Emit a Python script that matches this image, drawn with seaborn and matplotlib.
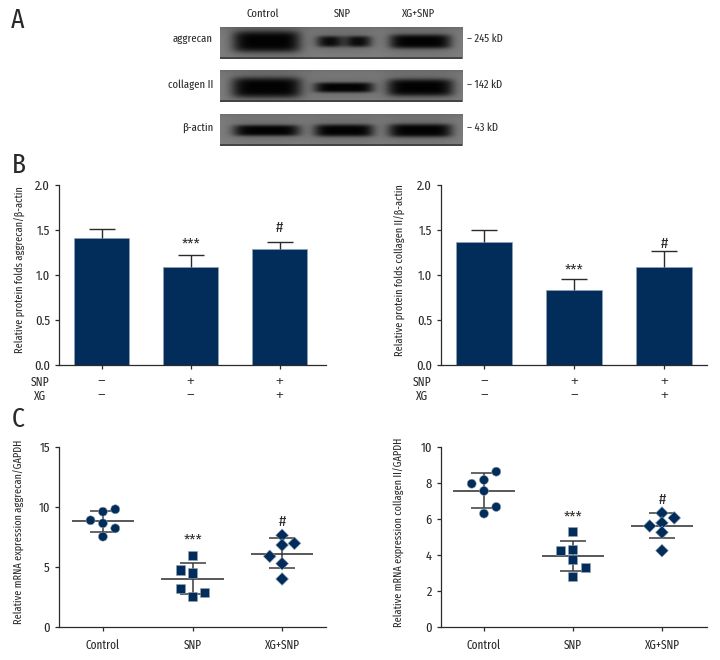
import numpy as np
import pandas as pd
import matplotlib
matplotlib.use("Agg")
import matplotlib.pyplot as plt
import seaborn as sns

sns.set_theme(style="ticks")
plt.rcParams['font.family'] = ['Fira Sans Extra Condensed', 'Fira Sans Condensed', 'Asap Condensed',
                               'Archivo Narrow', 'Liberation Sans', 'DejaVu Sans']
plt.rcParams['axes.linewidth'] = 0.9

NAVY = "#022d5b"
INK = "#2a2a2a"
W, H = 720, 660

# ---- data ----
groups = ["Control", "SNP", "XG+SNP"]
snp_row = ["\u2212", "+", "+"]
xg_row = ["\u2212", "\u2212", "+"]
marks = ["", "***", "#"]

agg_bar = [1.41, 1.09, 1.29]
agg_bar_err = [0.10, 0.13, 0.08]
agg_bar_mark = [None, 1.34, 1.52]
col_bar = [1.37, 0.83, 1.09]
col_bar_err = [0.13, 0.13, 0.18]
col_bar_mark = [None, 1.056, 1.344]

agg_ctrl = [8.89, 9.61, 9.81, 8.64, 8.22, 7.53]
agg_snp = [5.94, 4.75, 4.50, 3.19, 2.86, 2.58]
agg_xg = [7.64, 6.97, 6.83, 5.89, 5.28, 4.00]
agg_lanes = [[-1, 0, 1, 0, 1, 0], [0, -1, 0, -1, 1, 0], [0, 1, 0, -1, 0, 0]]
agg_mean = [8.80, 4.00, 6.08]
agg_low = [7.94, 2.75, 4.92]
agg_up = [9.67, 5.30, 7.39]
agg_mark = [None, 7.25, 8.78]

col_ctrl = [8.63, 8.17, 7.96, 7.56, 6.67, 6.30]
col_snp = [5.33, 4.28, 4.24, 3.74, 3.33, 2.81]
col_xg = [6.33, 6.06, 5.78, 5.61, 5.26, 4.24]
col_lanes = [[1, 0, -1, 0, 1, 0], [0, 0, -1, 0, 1, 0], [0, 1, 0, -1, 0, 0]]
col_mean = [7.55, 3.94, 5.59]
col_low = [6.63, 3.09, 4.94]
col_up = [8.54, 4.80, 6.33]
col_mark = [None, 6.10, 7.06]

blot_names = ["aggrecan", "collagen II", "\u03b2-actin"]
blot_sizes = ["\u2013 245 kD", "\u2013 142 kD", "\u2013 43 kD"]
band_width = [[66, 53, 60], [68, 58, 65], [65, 58, 62]]
band_height = [[21, 11, 14], [20, 10, 17], [11, 12, 13]]
band_dark = [[1.0, 0.95, 1.0], [1.0, 1.0, 1.0], [1.0, 1.0, 1.0]]
band_dip = [[0.0, 0.45, 0.0], [0.0, 0.0, 0.0], [0.0, 0.0, 0.0]]


def axes_px(x0, x1, y_top, y_bot):
    return fig.add_axes([x0 / W, 1 - y_bot / H, (x1 - x0) / W, (y_bot - y_top) / H])


fig = plt.figure(figsize=(W / 100, H / 100), dpi=100)
fig.patch.set_facecolor("white")

# ---- panel A : blots ----
blot_tops = [27, 70, 114]
blot_bots = [59, 102, 146]
blot_mid = [41, 87, 130]
lane_px = [266, 343, 419]
for row, top in enumerate(blot_tops):
    ax = axes_px(220, 462, top, blot_bots[row])
    yy, xx = np.mgrid[top:blot_bots[row], 220:462]
    img = np.full(yy.shape, 0.50) - 0.06 * np.exp(-((yy - top) / 4.0))
    for j, cx in enumerate(lane_px):
        u = (xx - cx) / (band_width[row][j] / 2)
        v = (yy - blot_mid[row]) / (band_height[row][j] / 2)
        core = np.exp(-(u ** 6 + v ** 4)) * (1 - band_dip[row][j] * np.exp(-(u / 0.3) ** 2))
        halo = np.exp(-((u / 1.2) ** 4 + (v / 1.9) ** 2))
        img = img * (1 - 0.98 * band_dark[row][j] * core) * (1 - 0.2 * halo)
    ax.imshow(img, cmap="gray", vmin=0, vmax=1, aspect="auto", interpolation="bilinear")
    ax.set_xticks([]); ax.set_yticks([])
    for s in ax.spines.values():
        s.set_visible(False)
    ax.axhline(blot_bots[row] - top - 1.5, color="#3a3a3a", lw=1.2)
    fig.text(213 / W, 1 - (blot_mid[row] - 2) / H, blot_names[row], ha="right", va="center", fontsize=8.3, color=INK)
    fig.text(467 / W, 1 - (blot_mid[row] - 2) / H, blot_sizes[row], ha="left", va="center", fontsize=8.3, color=INK)
for g, cx in zip(groups, [263, 342, 419]):
    fig.text(cx / W, 1 - 14 / H, g, ha="center", va="center", fontsize=8.3, color=INK)

for letter, px, py in zip("ABC", [18, 19, 18], [20, 165, 419]):
    fig.text(px / W, 1 - py / H, letter, ha="center", va="center", fontsize=20, color=INK)


def style(ax, ylabel, lx, ly):
    sns.despine(ax=ax)
    ax.set_xlabel("")
    ax.set_ylabel(ylabel, fontsize=8, color=INK)
    ax.yaxis.set_label_coords(lx, ly)
    ax.tick_params(axis="both", labelsize=9.8, colors=INK, length=3, width=0.9, pad=3.5)
    for s in ax.spines.values():
        s.set_color(INK)


def put_marks(ax, ys):
    for i, y in enumerate(ys):
        if y is not None:
            ax.text(i, y, marks[i], ha="center", va="center", fontsize=11, color=INK,
                    family=['Fira Sans Condensed', 'Liberation Sans', 'DejaVu Sans'])


# ---- panel B : bars ----
def bars(box, vals, errs, mark_y, xlim, ylabel, lx):
    ax = axes_px(*box)
    df = pd.DataFrame({"g": groups, "v": vals})
    sns.barplot(data=df, x="g", y="v", color=NAVY, saturation=1, width=0.62, ax=ax,
                edgecolor="#8fa3b8", linewidth=0.5)
    tops = np.add(vals, errs)
    ax.vlines(range(3), vals, tops, color=INK, lw=1, zorder=1)
    ax.hlines(tops, [i - 0.147 for i in range(3)], [i + 0.147 for i in range(3)], color=INK, lw=1, zorder=1)
    ax.set_xlim(*xlim)
    ax.set_ylim(0, 2.0)
    ax.set_yticks([0, 0.5, 1, 1.5, 2.0])
    ax.set_yticklabels(["0.0", "0.5", "1.0", "1.5", "2.0"])
    style(ax, ylabel, lx, 0.528)
    ax.set_xticks(range(3))
    ax.set_xticklabels([])
    put_marks(ax, mark_y)
    sign_font = ['Liberation Sans', 'DejaVu Sans']
    for i in range(3):
        ax.annotate(snp_row[i], (i, 0), xytext=(0, -12.2), textcoords="offset points", family=sign_font,
                    ha="center", va="center", fontsize=9.5, color=INK, annotation_clip=False)
        ax.annotate(xg_row[i], (i, 0), xytext=(0, -22.3), textcoords="offset points", family=sign_font,
                    ha="center", va="center", fontsize=9.5, color=INK, annotation_clip=False)
    ax.annotate("SNP", (0, 0), xycoords="axes fraction", xytext=(-7, -12.2), textcoords="offset points",
                ha="right", va="center", fontsize=9, color=INK, annotation_clip=False)
    ax.annotate("XG", (0, 0), xycoords="axes fraction", xytext=(-9, -22.3), textcoords="offset points",
                ha="right", va="center", fontsize=9, color=INK, annotation_clip=False)
    return ax


bars((59, 326, 185, 365), agg_bar, agg_bar_err, agg_bar_mark, (-0.48, 2.52),
     "Relative protein folds aggrecan/\u03b2-actin", -33 / 267)
bars((441, 707, 185, 365), col_bar, col_bar_err, col_bar_mark, (-0.478, 2.478),
     "Relative protein folds collagen II/\u03b2-actin", -35 / 266)


# ---- panel C : scatter ----
def dots(box, series, lanes, means, lows, ups, mark_y, xlim, ymax, yticks, ylabel, lx):
    ax = axes_px(*box)
    rows = []
    for i, (vals, ln) in enumerate(zip(series, lanes)):
        for v, l in zip(vals, ln):
            rows.append({"pos": i + l * 0.138, "v": v, "g": groups[i]})
    df = pd.DataFrame(rows)
    ax.hlines(means, [i - 0.347 for i in range(3)], [i + 0.347 for i in range(3)], color="#4a4a4a", lw=1.3, zorder=1)
    ax.errorbar(range(3), means, yerr=[np.subtract(means, lows), np.subtract(ups, means)], fmt="none",
                ecolor="#3a3a3a", elinewidth=1.1, capsize=9.1, capthick=1.1, zorder=1)
    sns.scatterplot(data=df, x="pos", y="v", hue="g", style="g", hue_order=groups, style_order=groups,
                    palette=[NAVY] * 3, markers={"Control": "o", "SNP": "s", "XG+SNP": "D"},
                    s=42, edgecolor="#8fa3b8", linewidth=0.4, legend=False, ax=ax, zorder=3)
    ax.set_xlim(*xlim)
    ax.set_ylim(0, ymax)
    ax.set_yticks(yticks)
    style(ax, ylabel, lx, 0.528)
    ax.set_xticks(range(3))
    ax.set_xticklabels(groups, fontsize=8.8)
    ax.tick_params(axis="x", pad=5.5)
    put_marks(ax, mark_y)
    return ax


dots((59, 326, 447, 627), [agg_ctrl, agg_snp, agg_xg], agg_lanes, agg_mean, agg_low, agg_up, agg_mark,
     (-0.49, 2.49), 15, [0, 5, 10, 15], "Relative mRNA expression aggrecan/GAPDH", -34 / 267)
dots((441, 707, 447, 627), [col_ctrl, col_snp, col_xg], col_lanes, col_mean, col_low, col_up, col_mark,
     (-0.483, 2.506), 10, [0, 2, 4, 6, 8, 10], "Relative mRNA expression collagen II/GAPDH", -36 / 266)

fig.savefig("out.png", dpi=100)
